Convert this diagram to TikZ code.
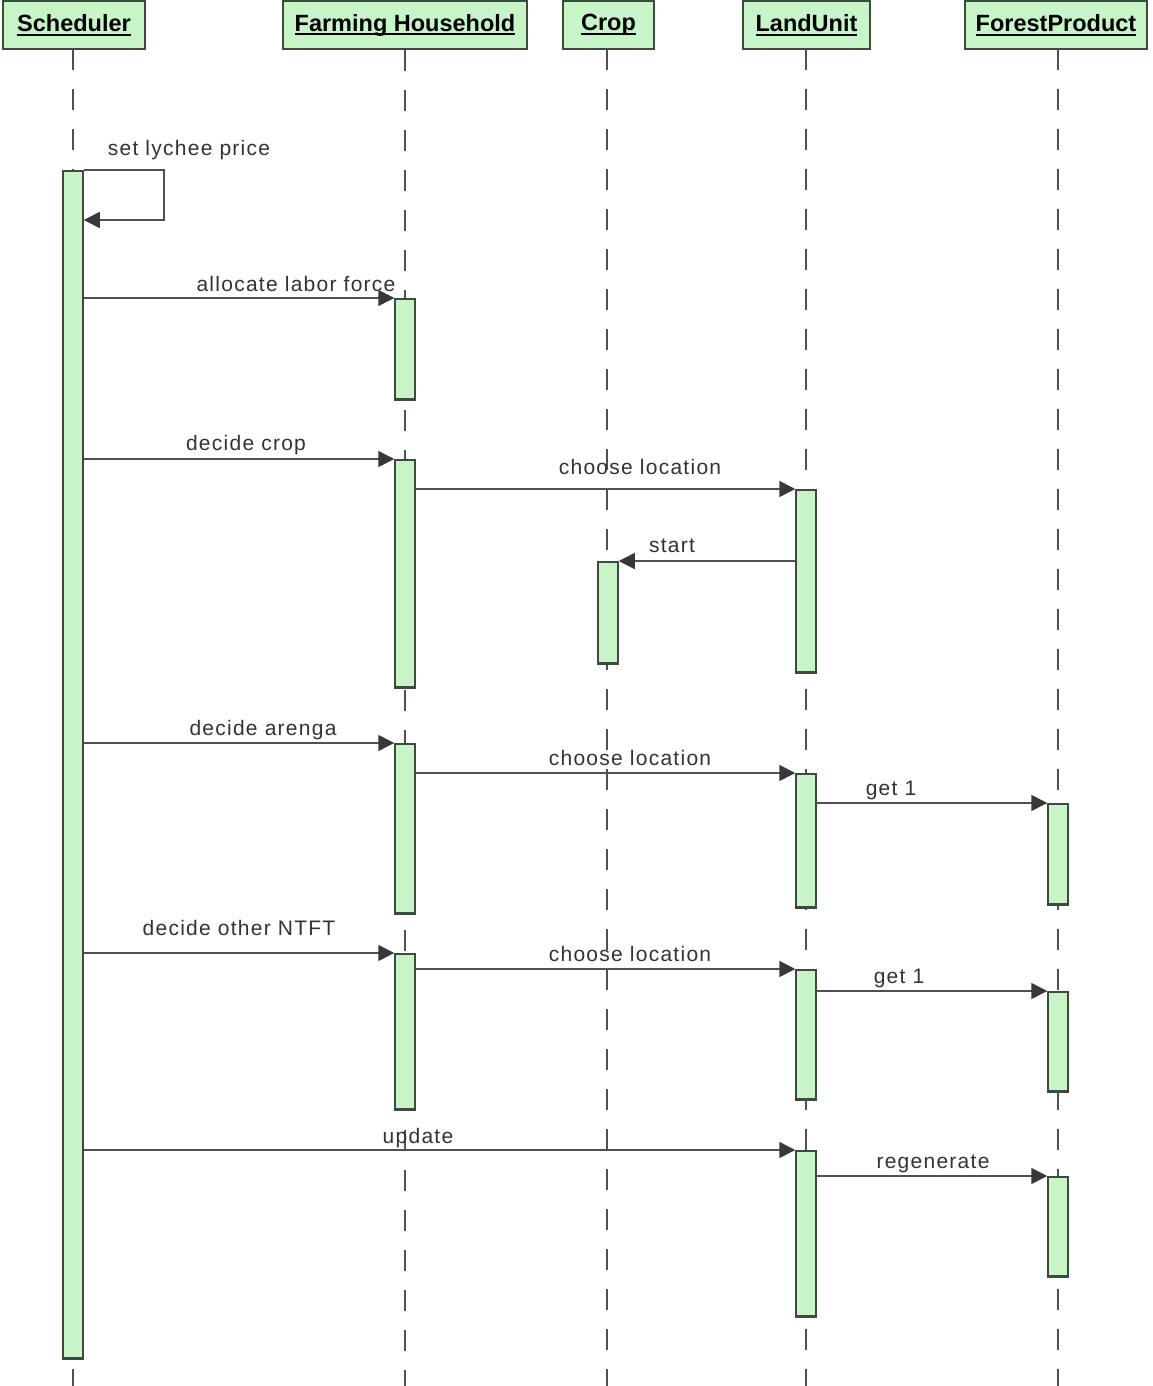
\documentclass[tikz,border=0pt]{standalone}
\usepackage{fontspec}
\setmainfont{Liberation Sans}
\usetikzlibrary{arrows.meta}
\definecolor{boxfill}{HTML}{C8F5C8}
\definecolor{boxline}{HTML}{3C4C3C}
\definecolor{lineclr}{HTML}{505050}
\definecolor{tipclr}{HTML}{383838}
\definecolor{txtclr}{HTML}{333333}
\newcommand\hdrtext[1]{\setbox0\hbox{#1}\rlap{\rule[-4pt]{\wd0}{2pt}}\box0}
\begin{document}
\begin{tikzpicture}[x=1pt,y=-1pt,
 hdr/.style={draw=boxline,fill=boxfill,line width=1.5pt,minimum height=48pt,inner sep=0pt,font=\fontsize{23.5}{28}\selectfont\bfseries},
 bar/.style={draw=boxline,fill=boxfill,line width=1.5pt,minimum width=20pt,inner sep=0pt,anchor=north},
 life/.style={draw=lineclr,line width=1.5pt,dash pattern=on 21pt off 19pt},
 msg/.style={draw=lineclr,line width=1.5pt,-{Triangle[length=16pt,width=16pt,color=tipclr]}},
 lbl/.style={anchor=base,text=txtclr,inner sep=0pt,font=\fontsize{21}{25}\selectfont\addfontfeature{LetterSpace=6}}
]
\fill[white] (0,0) rectangle (1153,1386);
\useasboundingbox (0,0) rectangle (1153,1386);
\coordinate (bottom) at (0,1386);
\coordinate (y220) at (0,220);
% headers
\node[hdr,minimum width=142pt] (h1) at (74,25) {\hdrtext{Scheduler}};
\node[hdr,minimum width=244pt] (h2) at (405,25) {\hdrtext{Farming Household}};
\node[hdr,minimum width=91pt] (h3) at (608.5,25) {\hdrtext{Crop}};
\node[hdr,minimum width=127pt] (h4) at (806.5,25) {\hdrtext{LandUnit}};
\node[hdr,minimum width=182pt] (h5) at (1056,25) {\hdrtext{ForestProduct}};
% lifelines
\draw[life] (73,49) -- (73,1386);
\draw[life] (h2.south) -- (h2.south |- bottom);
\draw[life] (607,49) -- (607,1386);
\draw[life] (806,49) -- (806,1386);
\draw[life] (1058,49) -- (1058,1386);
% activation bars
\node[bar,minimum height=1187pt] (sb) at (73,170) {};
\node[bar,minimum height=100pt] (fh1) at (405,298) {};
\node[bar,minimum height=227pt] (fh2) at (405,459) {};
\node[bar,minimum height=182pt] (lu1) at (806,489) {};
\node[bar,minimum height=101pt] (cr1) at (608,561) {};
\node[bar,minimum height=169pt] (fh3) at (405,743) {};
\node[bar,minimum height=133pt] (lu2) at (806,773) {};
\node[bar,minimum height=100pt] (fp1) at (1058,803) {};
\node[bar,minimum height=155pt] (fh4) at (405,953) {};
\node[bar,minimum height=129pt] (lu3) at (806,969) {};
\node[bar,minimum height=99pt] (fp2) at (1058,991) {};
\node[bar,minimum height=165pt] (lu4) at (806,1150) {};
\node[bar,minimum height=99pt] (fp3) at (1058,1176) {};
\foreach \b in {sb,fh1,fh2,lu1,cr1,fh3,lu2,fp1,fh4,lu3,fp2,lu4,fp3}
  \draw[boxline,line width=2.5pt] ([yshift=-0.5pt]\b.south west) -- ([yshift=-0.5pt]\b.south east);
% messages
\draw[msg] (sb.north east) -- ++(80,0) -- ++(0,50) -- (sb.east |- y220);
\draw[msg] (sb.east |- fh1.north west) -- (fh1.north west);
\draw[msg] (sb.east |- fh2.north west) -- (fh2.north west);
\draw[msg] (fh2.east |- lu1.north west) -- (lu1.north west);
\draw[msg] (lu1.west |- cr1.north east) -- (cr1.north east);
\draw[msg] (sb.east |- fh3.north west) -- (fh3.north west);
\draw[msg] (fh3.east |- lu2.north west) -- (lu2.north west);
\draw[msg] (lu2.east |- fp1.north west) -- (fp1.north west);
\draw[msg] (sb.east |- fh4.north west) -- (fh4.north west);
\draw[msg] (fh4.east |- lu3.north west) -- (lu3.north west);
\draw[msg] (lu3.east |- fp2.north west) -- (fp2.north west);
\draw[msg] (sb.east |- lu4.north west) -- (lu4.north west);
\draw[msg] (lu4.east |- fp3.north west) -- (fp3.north west);
% labels
\node[lbl] (t1) at (189,155) {set lychee price};
\node[lbl] (t2) at (296,291) {allocate labor force};
\node[lbl] (t3) at (246,450) {decide crop};
\node[lbl] (t4) at (640,474) {choose location};
\node[lbl] (t5) at (672,552) {start};
\node[lbl] (t6) at (263,735) {decide arenga};
\node[lbl] (t7) at (630,765) {choose location};
\node[lbl] (t8) at (891,795) {get 1};
\node[lbl] (t9) at (239,935) {decide other NTFT};
\node[lbl] (t10) at (630,961) {choose location};
\node[lbl] (t11) at (899,983) {get 1};
\node[lbl] (t12) at (418,1143) {update};
\node[lbl] (t13) at (933,1168) {regenerate};
\end{tikzpicture}
\end{document}
